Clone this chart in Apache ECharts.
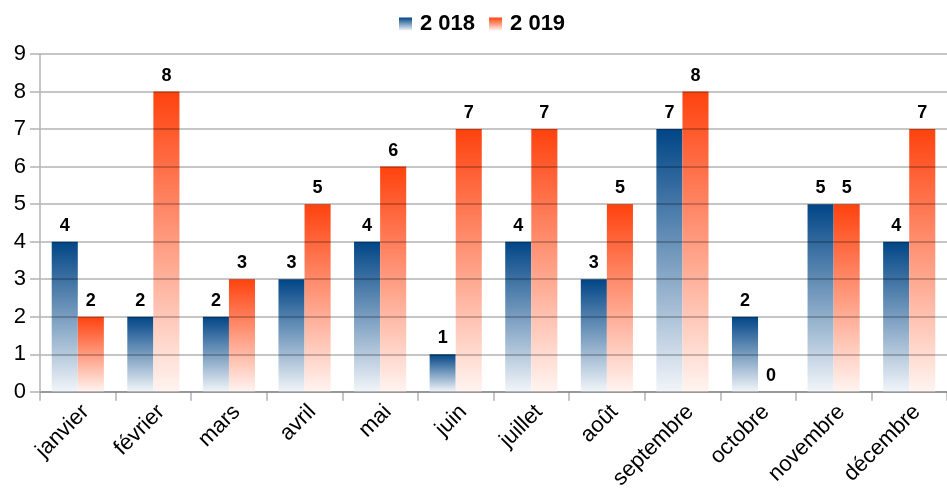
<!DOCTYPE html>
<html>
<head>
<meta charset="utf-8">
<script src="https://cdn.jsdelivr.net/npm/echarts@6/dist/echarts.min.js"></script>
<style>
  html, body { margin: 0; padding: 0; background: #fff; }
  #chart { width: 947px; height: 492px; }
</style>
</head>
<body>
<div id="chart"></div>
<script>
// données
const mois = ['janvier', 'février', 'mars', 'avril', 'mai', 'juin', 'juillet', 'août', 'septembre', 'octobre', 'novembre', 'décembre'];
const serie2018 = [4, 2, 2, 3, 4, 1, 4, 3, 7, 2, 5, 4];
const serie2019 = [2, 8, 3, 5, 6, 7, 7, 5, 8, 0, 5, 7];
const yTicks = [0, 1, 2, 3, 4, 5, 6, 7, 8, 9];

const font = 'Liberation Sans, Arial, sans-serif';

const grad = (top, bottom) => new echarts.graphic.LinearGradient(0, 0, 0, 1, [
  { offset: 0, color: top },
  { offset: 1, color: bottom }
]);

const bleu = grad('#004586', '#f2f5f9');
const rouge = grad('#ff420e', '#fff4f1');

const labelStyle = {
  show: true,
  position: 'top',
  distance: 7,
  color: '#000',
  fontFamily: font,
  fontWeight: 'bold',
  fontSize: 18
};

const chart = echarts.init(document.getElementById('chart'));
chart.setOption({
  animation: false,
  legend: {
    top: 13,
    left: 399,
    padding: 0,
    itemWidth: 13,
    itemHeight: 13,
    itemGap: 14,
    icon: 'rect',
    textStyle: { fontFamily: font, fontWeight: 'bold', fontSize: 22, color: '#000', padding: [0, 0, 0, 3] },
    data: ['2 018', '2 019']
  },
  grid: { left: 40, right: 0, top: 54, bottom: 100 },
  xAxis: {
    type: 'category',
    data: mois,
    axisLine: { lineStyle: { color: '#b3b3b3', width: 1.5 } },
    axisTick: { show: true, length: 9, lineStyle: { color: '#b3b3b3', width: 1.5 } },
    axisLabel: { rotate: 45, fontFamily: font, fontSize: 22, color: '#000', margin: 9, interval: 0, verticalAlign: 'top' }
  },
  yAxis: {
    type: 'value',
    min: yTicks[0],
    max: yTicks[yTicks.length - 1],
    interval: 1,
    z: 3,
    axisLine: { show: true, lineStyle: { color: '#b3b3b3', width: 1.5 } },
    axisTick: { show: true, length: 10, lineStyle: { color: '#b3b3b3', width: 1.5 } },
    axisLabel: { fontFamily: font, fontSize: 22, color: '#000', margin: 14 },
    splitLine: { lineStyle: { color: 'rgba(0,0,0,0.3)', width: 1.5 } }
  },
  series: [
    {
      name: '2 018',
      type: 'bar',
      data: serie2018,
      barGap: 0,
      barCategoryGap: '31%',
      itemStyle: { color: bleu },
      label: labelStyle
    },
    {
      name: '2 019',
      type: 'bar',
      data: serie2019,
      itemStyle: { color: rouge },
      label: labelStyle
    }
  ]
});
</script>
</body>
</html>
